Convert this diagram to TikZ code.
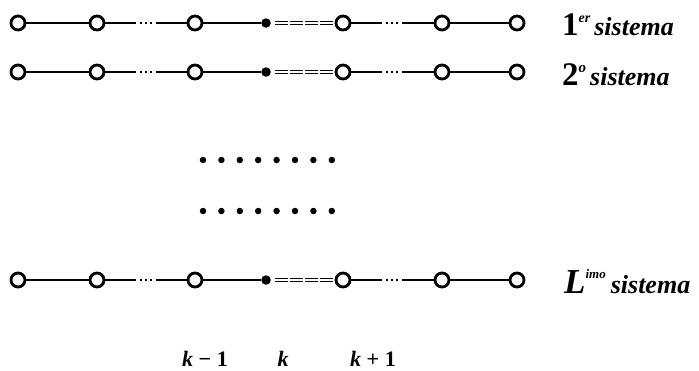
\documentclass[tikz,border=0pt]{standalone}
\usepackage{fontspec}
\setmainfont{Liberation Serif}
\begin{document}
\begin{tikzpicture}[x=1pt,y=-1pt,
  oc/.style={circle,draw,line width=2.8pt,minimum size=14pt,inner sep=0pt},
  fc/.style={circle,fill,minimum size=9.5pt,inner sep=0pt},
  link/.style={line width=2.2pt},
  dlink/.style={line width=2.2pt,dash pattern=on 31pt off 4pt on 1.8pt off 3pt on 1.8pt off 3pt on 1.8pt off 4pt on 60pt},
  dbl/.style={line width=1.4pt,double,double distance=2pt,dash pattern=on 13pt off 2pt,shorten <=4pt},
  lab/.style={anchor=base west,inner sep=0pt,font=\bfseries\itshape\fontsize{26}{28}\selectfont},
  klab/.style={anchor=base,inner sep=0pt,font=\bfseries\fontsize{22}{24}\selectfont},
  dot/.style={circle,fill,minimum size=6.5pt,inner sep=0pt}]
\useasboundingbox (0,0) rectangle (699,370);
\foreach \r/\y in {a/23,b/72,c/280}{
  \node[oc] (\r1) at (18,\y) {};
  \node[oc] (\r2) at (97,\y) {};
  \node[oc] (\r3) at (195,\y) {};
  \node[fc] (\r4) at (266,\y) {};
  \node[oc] (\r5) at (343,\y) {};
  \node[oc] (\r6) at (442,\y) {};
  \node[oc] (\r7) at (517,\y) {};
  \draw[link] (\r1) -- (\r2);
  \draw[dlink] (\r2) -- (\r3);
  \draw[link] (\r3) -- (\r4);
  \draw[dbl] (\r4) -- (\r5);
  \draw[dlink] (\r5) -- (\r6);
  \draw[link] (\r6) -- (\r7);
}
\node[lab] (t1) at (562,35) {{\upshape\fontsize{33}{34}\selectfont 1}\raisebox{13pt}{\fontsize{14}{14}\selectfont er}\hspace{4pt}sistema};
\node[lab] (t2) at (562,85) {{\upshape\fontsize{33}{34}\selectfont 2}\raisebox{13pt}{\fontsize{15}{15}\selectfont o}\hspace{4pt}sistema};
\node[lab] (t3) at (564,293) {{\fontsize{35}{36}\selectfont L}\raisebox{15pt}{\fontsize{13}{13}\selectfont imo}\hspace{5pt}sistema};
\foreach \i in {0,...,7}{
  \node[dot] (p\i) at ({203+\i*18.4},160) {};
  \node[dot] (q\i) at ({203+\i*18.4},211) {};
}
\node[klab] (k1) at (205,366) {\itshape k\upshape\ − 1};
\node[klab] (k2) at (283,366) {\itshape k};
\node[klab] (k3) at (373,366) {\itshape k\upshape\ + 1};
\end{tikzpicture}
\end{document}
